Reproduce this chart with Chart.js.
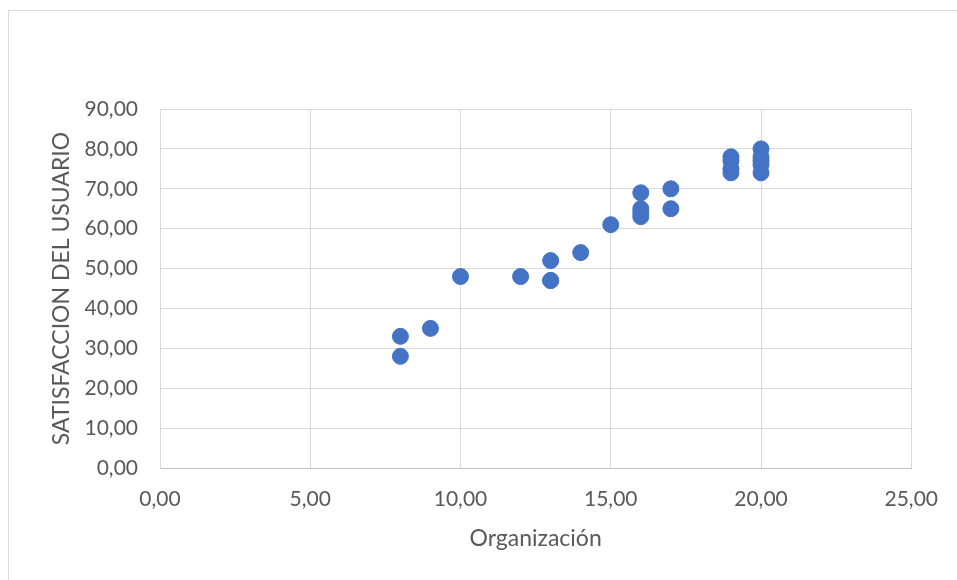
<!DOCTYPE html>
<html>
<head>
<meta charset="utf-8">
<script src="https://cdn.jsdelivr.net/npm/chart.js@4.4.1/dist/chart.umd.min.js"></script>
<style>
  html, body { margin: 0; padding: 0; background: #fff; overflow: hidden; }
  #wrap { position: relative; width: 957px; height: 580px; }
  #frame { position: absolute; left: 8px; top: 10px; width: 980px; height: 620px;
           border: 1px solid #d9d9d9; box-sizing: border-box; }
  canvas { position: absolute; left: 0; top: 0; }
</style>
</head>
<body>
<div id="wrap">
  <div id="frame"></div>
  <canvas id="scatterChart" width="957" height="580"></canvas>
</div>
<script>
// Organización (x) vs satisfacción del usuario (y)
const organizacion = [8, 8, 9, 10, 12, 13, 13, 13, 14, 15, 16, 16, 16, 16, 17, 17, 19, 19, 19, 19, 20, 20, 20, 20, 20];
const satisfaccion = [33, 28, 35, 48, 48, 52, 47, 47, 54, 61, 69, 65, 64, 63, 70, 65, 78, 77, 75, 74, 80, 78, 77, 76, 74];
const xTicks = [0, 5, 10, 15, 20, 25];
const yTicks = [0, 10, 20, 30, 40, 50, 60, 70, 80, 90];

const fmt = v => v.toFixed(2).replace(".", ",");
const points = organizacion.map((x, i) => ({ x: x, y: satisfaccion[i] }));
const fontFamily = "Lato, 'Open Sans', sans-serif";

const ctx = document.getElementById("scatterChart").getContext("2d");
new Chart(ctx, {
  type: "scatter",
  data: {
    datasets: [{
      data: points,
      backgroundColor: "#4472c4",
      borderColor: "#4472c4",
      pointRadius: 8,
      pointHoverRadius: 8
    }]
  },
  options: {
    responsive: false,
    animation: false,
    layout: { padding: { top: 109, right: 45, left: 0, bottom: 0 } },
    plugins: { legend: { display: false }, tooltip: { enabled: false } },
    scales: {
      x: {
        type: "linear",
        min: 0,
        max: 25,
        afterBuildTicks: axis => { axis.ticks = xTicks.map(v => ({ value: v })); },
        afterFit: axis => { axis.height = 112; },
        grid: { color: "#d9d9d9", lineWidth: 1, drawTicks: false },
        border: { color: "#bfbfbf", width: 1 },
        ticks: {
          padding: 19,
          color: "#595959",
          font: { family: fontFamily, size: 21 },
          callback: v => fmt(v)
        },
        title: {
          display: true,
          text: "Organización",
          color: "#595959",
          padding: { top: 0, bottom: 28 },
          font: { family: fontFamily, size: 23 }
        }
      },
      y: {
        type: "linear",
        min: 0,
        max: 90,
        afterBuildTicks: axis => { axis.ticks = yTicks.map(v => ({ value: v })); },
        afterFit: axis => { axis.width = 160; },
        grid: { color: "#d9d9d9", lineWidth: 1, drawTicks: false },
        border: { color: "#d9d9d9", width: 1 },
        ticks: {
          padding: 22,
          color: "#595959",
          font: { family: fontFamily, size: 21 },
          callback: v => fmt(v)
        },
        title: {
          display: true,
          text: "SATISFACCION DEL USUARIO",
          color: "#595959",
          padding: { top: 48, bottom: 0 },
          font: { family: fontFamily, size: 23 }
        }
      }
    }
  }
});
</script>
</body>
</html>
